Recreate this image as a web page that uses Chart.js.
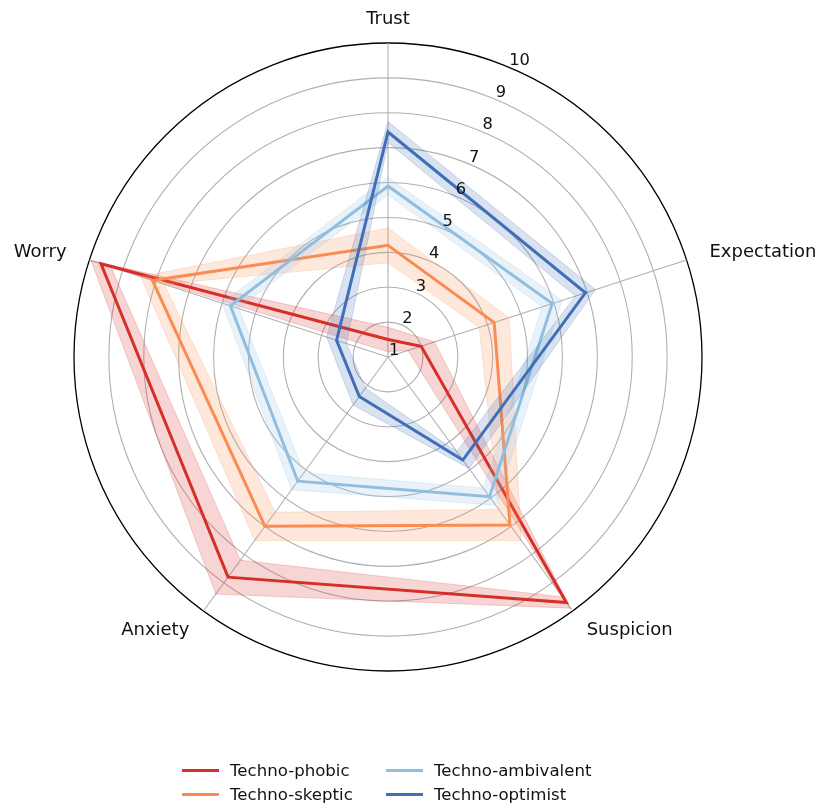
<!DOCTYPE html>
<html>
<head>
<meta charset="utf-8">
<title>Technology attitude profiles</title>
<script src="https://cdn.jsdelivr.net/npm/chart.js@4.4.1/dist/chart.umd.min.js"></script>
<style>
  html, body { margin: 0; padding: 0; background: #ffffff; }
  #wrap { position: relative; width: 819px; height: 806px; }
  #c { position: absolute; left: 0; top: 0; }
  .item { position: absolute; display: flex; align-items: center; height: 24px;
          font: 16.6px "DejaVu Sans", sans-serif; color: #111; white-space: nowrap; }
  .sw { width: 37px; height: 3px; margin-right: 11px; }
</style>
</head>
<body>
<div id="wrap">
  <canvas id="c" width="819" height="806"></canvas>
  <div id="legend"></div>
</div>
<script>
// Dimensions (clockwise from the top) and radial tick values
const categories = ['Trust', 'Expectation', 'Suspicion', 'Anxiety', 'Worry'];
const tickValues = [1, 2, 3, 4, 5, 6, 7, 8, 9, 10];

// Profile names
const seriesNames = ['Techno-phobic', 'Techno-skeptic', 'Techno-ambivalent', 'Techno-optimist'];

// Mean scores per dimension
const phobic     = [1.5, 2.0, 9.7, 8.8, 9.65];
const skeptic    = [4.2, 4.2, 6.95, 7.0, 8.1];
const ambivalent = [5.9, 5.95, 5.95, 5.4, 5.75];
const optimist   = [7.45, 6.95, 4.65, 2.4, 2.55];

// Spread around each mean (shaded band = mean ± spread)
const phobicSpread     = [0.35, 0.4, 0.2, 0.6, 0.3];
const skepticSpread    = [0.5, 0.45, 0.55, 0.5, 0.35];
const ambivalentSpread = [0.25, 0.3, 0.3, 0.3, 0.25];
const optimistSpread   = [0.3, 0.3, 0.3, 0.3, 0.3];

// Line colours, one per profile
const lineColors = ['#d62f27', '#fc8b52', '#8fbfe0', '#3f6fb6'];

const means = [phobic, skeptic, ambivalent, optimist];
const spreads = [phobicSpread, skepticSpread, ambivalentSpread, optimistSpread];

function rgba(hex, a) {
  const n = parseInt(hex.slice(1), 16);
  return `rgba(${(n >> 16) & 255}, ${(n >> 8) & 255}, ${n & 255}, ${a})`;
}

// Each profile: upper band edge (filled down to the lower edge), lower edge, mean line
const datasets = [];
means.forEach((vals, i) => {
  const sp = spreads[i];
  const col = lineColors[i];
  const layer = (means.length - 1 - i) * 10;
  datasets.push({
    label: seriesNames[i] + ' upper',
    data: vals.map((v, k) => v + sp[k]),
    borderColor: rgba(col, 0.22),
    borderWidth: 1,
    backgroundColor: rgba(col, 0.2),
    fill: '+1',
    pointRadius: 0,
    order: layer + 1
  });
  datasets.push({
    label: seriesNames[i] + ' lower',
    data: vals.map((v, k) => v - sp[k]),
    borderColor: rgba(col, 0.22),
    borderWidth: 1,
    fill: false,
    pointRadius: 0,
    order: layer + 1
  });
  datasets.push({
    label: seriesNames[i],
    data: vals,
    borderColor: col,
    borderWidth: 3,
    fill: false,
    pointRadius: 0,
    order: layer
  });
});

// Radial tick labels along a 22.5° ray and dimension names around the rim
const polarText = {
  id: 'polarText',
  afterDatasetsDraw(chart) {
    const s = chart.scales.r;
    const ctx = chart.ctx;
    ctx.save();
    ctx.fillStyle = '#111';
    ctx.font = '16.3px "DejaVu Sans"';
    ctx.textAlign = 'left';
    ctx.textBaseline = 'alphabetic';
    const a = 22.5 * Math.PI / 180;
    tickValues.forEach(v => {
      const r = s.getDistanceFromCenterForValue(v);
      ctx.fillText(String(v), s.xCenter + r * Math.sin(a) + 1, s.yCenter - r * Math.cos(a) - 2);
    });
    ctx.font = '18px "DejaVu Sans"';
    ctx.textBaseline = 'middle';
    const R = s.drawingArea + 24;
    categories.forEach((c, i) => {
      const p = s.getPointPosition(i, R);
      const dx = p.x - s.xCenter;
      ctx.textAlign = Math.abs(dx) < 1 ? 'center' : (dx > 0 ? 'left' : 'right');
      ctx.fillText(c, p.x, p.y);
    });
    ctx.restore();
  }
};

new Chart(document.getElementById('c'), {
  type: 'radar',
  data: { labels: categories, datasets },
  options: {
    responsive: false,
    animation: false,
    devicePixelRatio: 1,
    events: [],
    layout: { padding: { left: 74, right: 117, top: 43, bottom: 135 } },
    elements: { line: { tension: 0 } },
    plugins: {
      legend: { display: false },
      tooltip: { enabled: false },
      filler: { propagate: false }
    },
    scales: {
      r: {
        min: 1,
        max: 10,
        startAngle: 0,
        ticks: { display: false, stepSize: 1 },
        pointLabels: { display: false },
        grid: {
          circular: true,
          color: ctx => (ctx.tick && ctx.tick.value === 10) ? '#000000' : '#b0b0b0',
          lineWidth: ctx => (ctx.tick && ctx.tick.value === 10) ? 1.3 : 1.1
        },
        angleLines: { color: '#b0b0b0', lineWidth: 1.1 }
      }
    }
  },
  plugins: [polarText]
});

// Two-column legend, filled column by column
const legend = document.getElementById('legend');
seriesNames.forEach((name, i) => {
  const col = Math.floor(i / 2), row = i % 2;
  const item = document.createElement('div');
  item.className = 'item';
  item.style.left = (182 + col * 204) + 'px';
  item.style.top = (758 + row * 24) + 'px';
  const sw = document.createElement('span');
  sw.className = 'sw';
  sw.style.background = lineColors[i];
  const tx = document.createElement('span');
  tx.textContent = name;
  item.appendChild(sw);
  item.appendChild(tx);
  legend.appendChild(item);
});
</script>
</body>
</html>
